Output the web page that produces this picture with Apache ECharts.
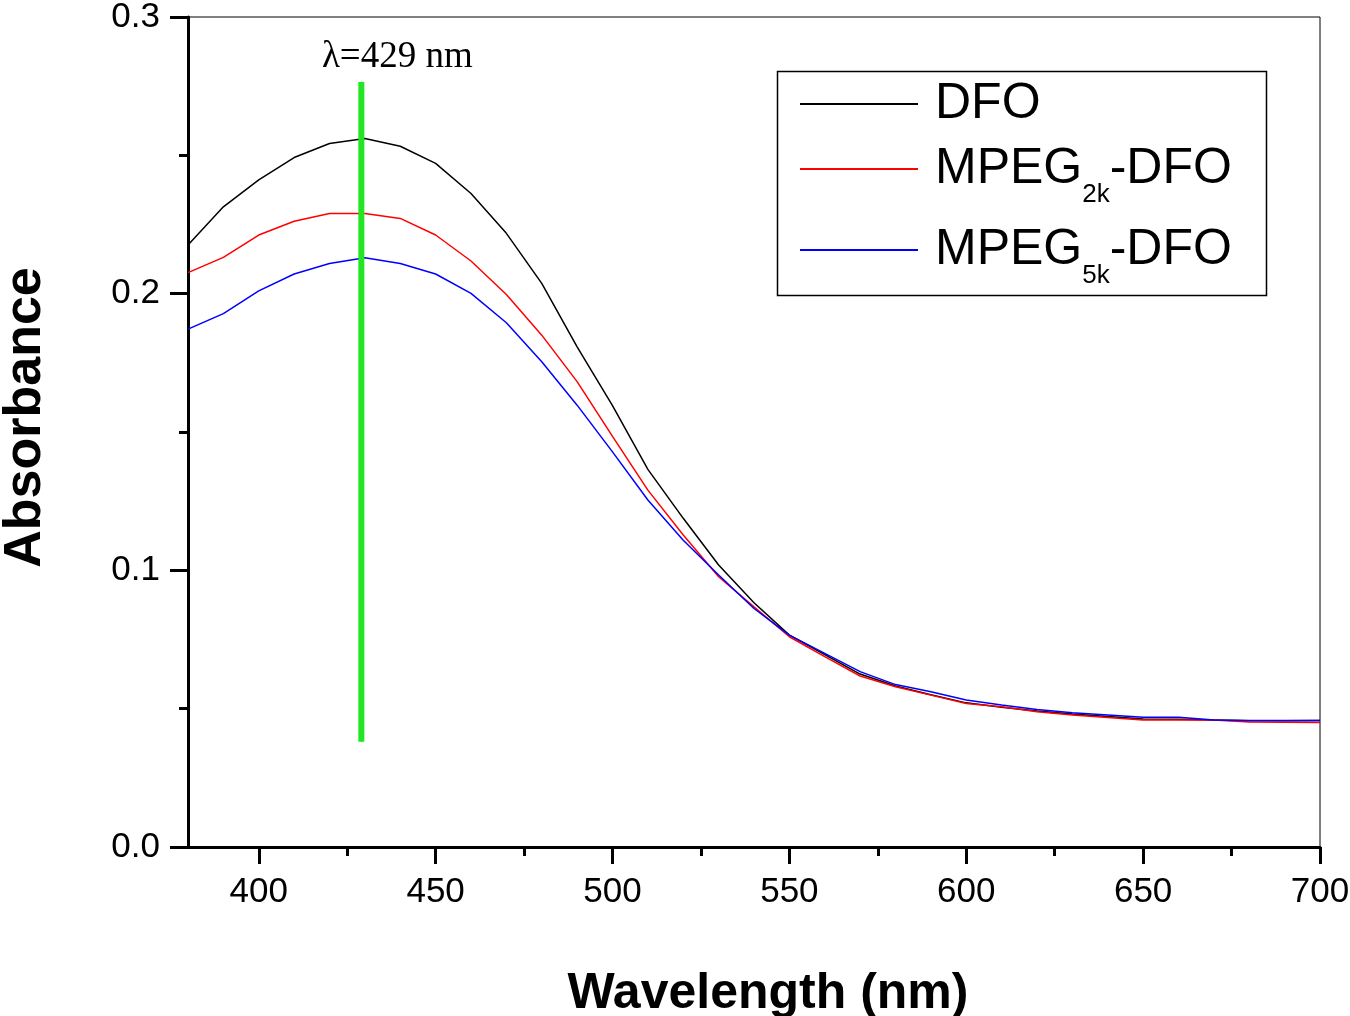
<!DOCTYPE html>
<html>
<head>
<meta charset="utf-8">
<script src="https://cdn.jsdelivr.net/npm/echarts@6/dist/echarts.min.js"></script>
<style>
html,body{margin:0;padding:0;background:#fff;}
#chart{width:1350px;height:1016px;}
</style>
</head>
<body>
<div id="chart"></div>
<script>
const wavelengths = [380,390,400,410,420,430,440,450,460,470,480,490,500,510,520,530,540,550,560,570,580,590,600,610,620,630,640,650,660,670,680,690,700];
const dfo = [0.2176,0.2314,0.2411,0.2492,0.2543,0.2561,0.2533,0.2471,0.2362,0.2218,0.2037,0.1808,0.1595,0.1365,0.1188,0.1019,0.0883,0.0766,0.0695,0.0625,0.0582,0.0550,0.0521,0.0505,0.0492,0.0481,0.0472,0.0463,0.0462,0.0459,0.0456,0.0456,0.0457];
const mpeg2k = [0.2076,0.2131,0.2212,0.2262,0.2290,0.2290,0.2272,0.2212,0.2118,0.1997,0.1850,0.1682,0.1484,0.1290,0.1128,0.0977,0.0868,0.0760,0.0688,0.0618,0.0579,0.0549,0.0519,0.0507,0.0489,0.0477,0.0468,0.0459,0.0459,0.0459,0.0452,0.0451,0.0450];
const mpeg5k = [0.1872,0.1928,0.2010,0.2071,0.2109,0.2130,0.2109,0.2071,0.2001,0.1895,0.1754,0.1597,0.1428,0.1254,0.1109,0.0983,0.0862,0.0766,0.0700,0.0634,0.0587,0.0561,0.0531,0.0513,0.0497,0.0485,0.0477,0.0469,0.0469,0.0459,0.0457,0.0457,0.0457];
const seriesNames = ['DFO','MPEG2k-DFO','MPEG5k-DFO'];
const peakWavelength = 429;
const peakLineY = [0.038, 0.2765];
const peakLabel = 'λ=429 nm';
const xMajorTicks = [400,450,500,550,600,650,700];
const xMinorTicks = [425,475,525,575,625,675];

const pair = (xs, ys) => xs.map((x, i) => [x, ys[i]]);

const chart = echarts.init(document.getElementById('chart'));
const FONT = "'Liberation Sans', Arial, sans-serif";

const richText = {
  m: {fontSize: 50, fontFamily: FONT, color: '#000', lineHeight: 78},
  s: {fontSize: 26, fontFamily: FONT, color: '#000', lineHeight: 2, verticalAlign: 'bottom'}
};
function legendFmt(name) {
  if (name === 'DFO') return '{m|DFO}';
  const sub = name.indexOf('2k') >= 0 ? '2k' : '5k';
  return '{m|MPEG}{s|' + sub + '}{m|-DFO}';
}
function mkLegend(name, top) {
  return {
    data: [{name: name, icon: 'rect'}], left: 800, top: top, padding: 0, orient: 'vertical',
    itemWidth: 118, itemHeight: 2, selectedMode: false,
    formatter: legendFmt,
    textStyle: {padding: [0,0,0,12], rich: richText, fontSize: 50, fontFamily: FONT, lineHeight: 78}
  };
}

const option = {
  animation: false,
  backgroundColor: '#fff',
  grid: {left: 188, right: 30, top: 17, bottom: 169, show: true, borderColor: '#000', borderWidth: 1, containLabel: false, outerBoundsMode: 'none'},
  legend: [mkLegend(seriesNames[0], 65), mkLegend(seriesNames[1], 130), mkLegend(seriesNames[2], 211)],
  graphic: [{
    type: 'rect', left: 775, top: 69, z: 0,
    shape: {width: 489, height: 224},
    style: {fill: 'none', stroke: '#000', lineWidth: 1.5}
  }],
  xAxis: [{
    type: 'value', min: 380, max: 700, position: 'bottom',
    name: 'Wavelength (nm)', nameLocation: 'middle', nameGap: 122,
    nameTextStyle: {fontSize: 50, fontWeight: 'bold', fontFamily: FONT, color: '#000', padding: [0,0,0,28]},
    axisLine: {show: true, lineStyle: {color: '#000', width: 3}},
    axisTick: {show: true, inside: false, length: 17, customValues: xMajorTicks, lineStyle: {color: '#000', width: 3}},
    axisLabel: {show: true, customValues: xMajorTicks, fontSize: 35, fontFamily: FONT, color: '#000', margin: 28},
    splitLine: {show: false}
  }, {
    type: 'value', min: 380, max: 700, position: 'bottom',
    axisLine: {show: false},
    axisTick: {show: true, inside: false, length: 9, customValues: xMinorTicks, lineStyle: {color: '#000', width: 3}},
    axisLabel: {show: false},
    splitLine: {show: false}
  }],
  yAxis: {
    type: 'value', min: 0, max: 0.3, interval: 0.1,
    name: 'Absorbance', nameLocation: 'middle', nameGap: 136, nameRotate: 90,
    nameTextStyle: {fontSize: 52, fontWeight: 'bold', fontFamily: FONT, color: '#000', padding: [0,0,0,29]},
    axisLine: {show: true, lineStyle: {color: '#000', width: 3}},
    axisTick: {show: true, inside: false, length: 18, lineStyle: {color: '#000', width: 3}},
    minorTick: {show: true, splitNumber: 2, length: 9, lineStyle: {color: '#000', width: 3}},
    axisLabel: {fontSize: 35, fontFamily: FONT, color: '#000', margin: 28, formatter: v => v.toFixed(1)},
    splitLine: {show: false}
  },
  series: [
    {name: seriesNames[0], type: 'line', data: pair(wavelengths, dfo), symbol: 'none', lineStyle: {color: '#000', width: 1.5}, itemStyle: {color: '#000'}, z: 3},
    {name: seriesNames[1], type: 'line', data: pair(wavelengths, mpeg2k), symbol: 'none', lineStyle: {color: '#ff0000', width: 1.5}, itemStyle: {color: '#ff0000'}, z: 4},
    {name: seriesNames[2], type: 'line', data: pair(wavelengths, mpeg5k), symbol: 'none', lineStyle: {color: '#0000ff', width: 1.5}, itemStyle: {color: '#0000ff'}, z: 5},
    {name: 'peak', type: 'line', z: 6, symbol: 'rect', symbolSize: 1, showSymbol: true,
     lineStyle: {color: '#22e622', width: 6}, itemStyle: {color: '#22e622'},
     data: [
       {value: [peakWavelength, peakLineY[0]]},
       {value: [peakWavelength, peakLineY[1]], label: {show: true, formatter: peakLabel, position: 'top', distance: 6, offset: [36, 0], fontSize: 37, fontFamily: "'Liberation Serif', 'Times New Roman', serif", color: '#000'}}
     ]}
  ]
};
chart.setOption(option);
</script>
</body>
</html>
